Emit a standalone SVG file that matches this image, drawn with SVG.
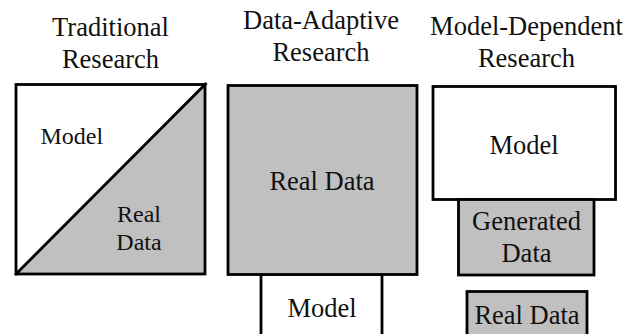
<svg xmlns="http://www.w3.org/2000/svg" width="640" height="334" viewBox="0 0 640 334">
  <style>
    .title { font-size: 26.5px; text-anchor: middle; fill: #111; }
    .lbl { font-size: 26.5px; text-anchor: middle; fill: #111; }
    .small { font-size: 24px; fill: #111; }
    .box { stroke: #000; stroke-width: 2.8; }
    .white { fill: #fff; }
    .gray { fill: #c0c0c0; }
  </style>
  <rect width="640" height="334" fill="#fff"/>

  <g font-family="Liberation Serif">
    <!-- Column titles -->
    <g id="titles">
      <text class="title" x="110.5" y="36">Traditional</text>
      <text class="title" x="110.5" y="68">Research</text>
      <text class="title" x="321" y="29">Data-Adaptive</text>
      <text class="title" x="321" y="61">Research</text>
      <text class="title" x="526.5" y="35">Model-Dependent</text>
      <text class="title" x="526.5" y="67">Research</text>
    </g>

    <!-- Traditional research: square split by a diagonal -->
    <g id="traditional">
      <rect class="white" x="16" y="84.5" width="189" height="189.5"/>
      <polygon class="gray" points="16,274 205,84.5 205,274"/>
      <line x1="15" y1="275" x2="206.5" y2="83" stroke="#000" stroke-width="2.8"/>
      <rect class="box" x="16" y="84.5" width="189" height="189.5" fill="none"/>
      <text class="small" x="40.5" y="144">Model</text>
      <text class="small" x="139" y="222" text-anchor="middle">Real</text>
      <text class="small" x="139" y="249.5" text-anchor="middle">Data</text>
    </g>

    <!-- Data-adaptive research -->
    <g id="da-model">
      <rect class="box white" x="261" y="274.5" width="121" height="70"/>
      <text class="lbl" x="322" y="317">Model</text>
    </g>
    <g id="da-realdata">
      <rect class="box gray" x="228" y="85.5" width="189" height="189"/>
      <text class="lbl" x="322" y="190">Real Data</text>
    </g>

    <!-- Model-dependent research -->
    <g id="md-model">
      <rect class="box white" x="433" y="86.5" width="182.5" height="113"/>
      <text class="lbl" x="524" y="154">Model</text>
    </g>
    <g id="md-generated">
      <rect class="box gray" x="458.5" y="199.5" width="135.5" height="75.5"/>
      <text class="lbl" x="526.5" y="230">Generated</text>
      <text class="lbl" x="526.5" y="262">Data</text>
    </g>
    <g id="md-realdata">
      <rect class="box gray" x="467" y="291.5" width="120" height="60"/>
      <text class="lbl" x="527" y="323.5">Real Data</text>
    </g>
  </g>

  <g id="connectors"/>
</svg>
